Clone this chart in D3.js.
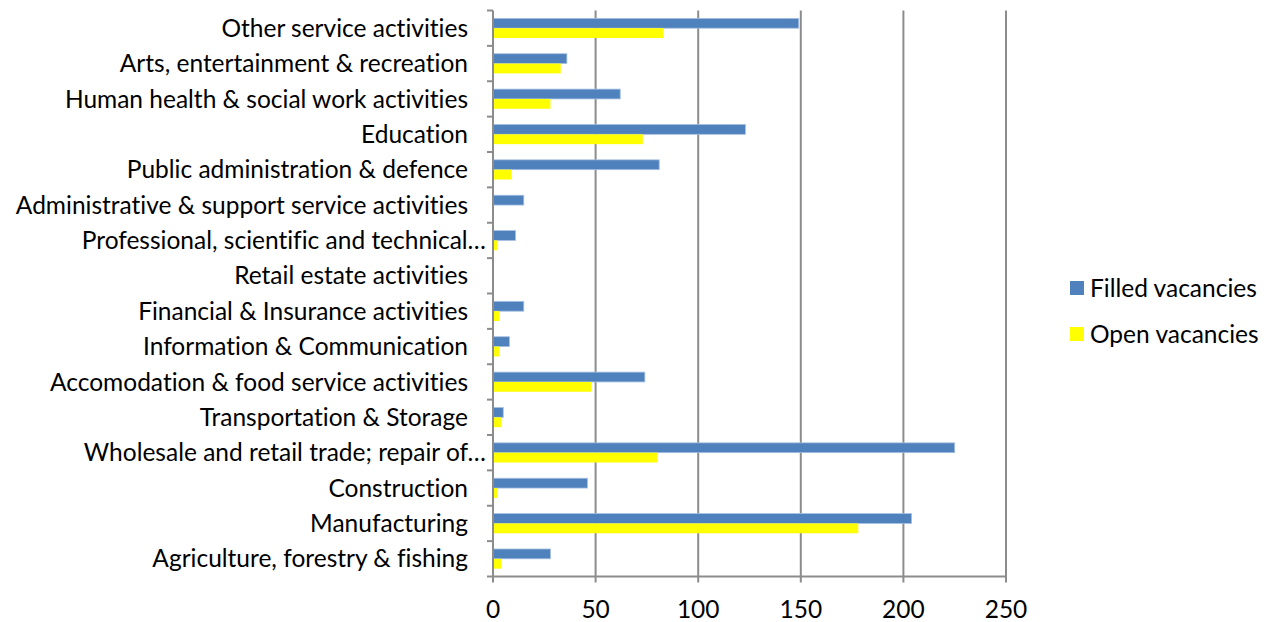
<!DOCTYPE html>
<html>
<head>
<meta charset="utf-8">
<script src="https://cdn.jsdelivr.net/npm/d3@7"></script>
<style>
  html, body { margin: 0; padding: 0; background: #fff; }
  svg text { font-family: Lato, "Open Sans", sans-serif; fill: #000; font-variant-ligatures: none; }
</style>
</head>
<body>
<svg id="chart" width="1270" height="622"></svg>
<script>
// Sectors, listed from top to bottom of the chart
const categories = [
  "Other service activities",
  "Arts, entertainment & recreation",
  "Human health & social work activities",
  "Education",
  "Public administration & defence",
  "Administrative & support service activities",
  "Professional, scientific and technical…",
  "Retail estate activities",
  "Financial & Insurance activities",
  "Information & Communication",
  "Accomodation & food service activities",
  "Transportation & Storage",
  "Wholesale and retail trade; repair of…",
  "Construction",
  "Manufacturing",
  "Agriculture, forestry & fishing"
];
const filledVacancies = [149, 36, 62, 123, 81, 15, 11, 0, 15, 8, 74, 5, 225, 46, 204, 28];
const openVacancies   = [83, 33, 28, 73, 9, 0, 2, 0, 3, 3, 48, 4, 80, 2, 178, 4];
const seriesNames = ["Filled vacancies", "Open vacancies"];
const seriesColors = ["#4F81BD", "#FFFF00"];
const xTicks = [0, 50, 100, 150, 200, 250];

const svg = d3.select("#chart");
const plot = { left: 493, right: 1006, top: 10.5, bottom: 576.5 };
const fontSize = "24.5px";
const axisColor = "#8c8c8c";

const x = d3.scaleLinear().domain([0, 250]).range([plot.left, plot.right]);
const y = d3.scaleBand().domain(categories).range([plot.top, plot.bottom])
  .paddingInner(0).paddingOuter(0);
const inner = d3.scaleBand().domain(seriesNames)
  .range([0, y.bandwidth()]).paddingInner(0).paddingOuter(0.8);

// Vertical gridlines
svg.append("g")
  .selectAll("line")
  .data(xTicks.slice(1))
  .join("line")
  .attr("x1", d => x(d)).attr("x2", d => x(d))
  .attr("y1", plot.top).attr("y2", plot.bottom)
  .attr("stroke", axisColor).attr("stroke-width", 2);

// Bars
const rows = categories.map((c, i) => ({ c, vals: [filledVacancies[i], openVacancies[i]] }));
const groups = svg.append("g").selectAll("g")
  .data(rows).join("g")
  .attr("transform", d => `translate(0,${y(d.c)})`);
groups.selectAll("rect")
  .data(d => d.vals.map((v, k) => ({ v, k })))
  .join("rect")
  .attr("x", x(0))
  .attr("y", d => inner(seriesNames[d.k]))
  .attr("width", d => x(d.v) - x(0))
  .attr("height", inner.bandwidth())
  .attr("fill", d => seriesColors[d.k])
  .attr("stroke", d => d.k === 0 && d.v > 0 ? "#a7c0e2" : "none")
  .attr("stroke-width", 0.8);

// Category axis
const yAxis = svg.append("g")
  .attr("transform", `translate(${plot.left},0)`);
yAxis.append("line")
  .attr("x1", 0).attr("x2", 0)
  .attr("y1", plot.top).attr("y2", plot.bottom)
  .attr("stroke", axisColor).attr("stroke-width", 2);
const boundaries = categories.map(c => y(c)).concat([plot.bottom]);
yAxis.selectAll("line.tick")
  .data(boundaries).join("line").attr("class", "tick")
  .attr("x1", -6).attr("x2", 0)
  .attr("y1", d => d).attr("y2", d => d)
  .attr("stroke", axisColor).attr("stroke-width", 2);
yAxis.selectAll("text")
  .data(categories).join("text")
  .attr("x", d => d.endsWith("…") ? -7 : -25)
  .attr("y", d => y(d) + y.bandwidth() / 2)
  .attr("dy", "0.35em")
  .attr("text-anchor", "end")
  .style("font-size", fontSize)
  .text(d => d);

// Value axis
const xAxis = svg.append("g");
xAxis.append("line")
  .attr("x1", plot.left - 1).attr("x2", plot.right + 1)
  .attr("y1", plot.bottom).attr("y2", plot.bottom)
  .attr("stroke", axisColor).attr("stroke-width", 2);
xAxis.selectAll("line.tick")
  .data(xTicks).join("line").attr("class", "tick")
  .attr("x1", d => x(d)).attr("x2", d => x(d))
  .attr("y1", plot.bottom).attr("y2", plot.bottom + 6)
  .attr("stroke", axisColor).attr("stroke-width", 2);
xAxis.selectAll("text")
  .data(xTicks).join("text")
  .attr("x", d => x(d))
  .attr("y", 609)
  .attr("dy", "0.35em")
  .attr("text-anchor", "middle")
  .style("font-size", fontSize)
  .text(d => d);

// Legend
const legend = svg.append("g");
const legendY = [288, 334];
seriesNames.forEach((name, k) => {
  legend.append("rect")
    .attr("x", 1070).attr("y", legendY[k] - 7)
    .attr("width", 14).attr("height", 14)
    .attr("fill", seriesColors[k]);
  legend.append("text")
    .attr("x", 1090).attr("y", legendY[k])
    .attr("dy", "0.35em")
    .style("font-size", fontSize)
    .text(name);
});
</script>
</body>
</html>
